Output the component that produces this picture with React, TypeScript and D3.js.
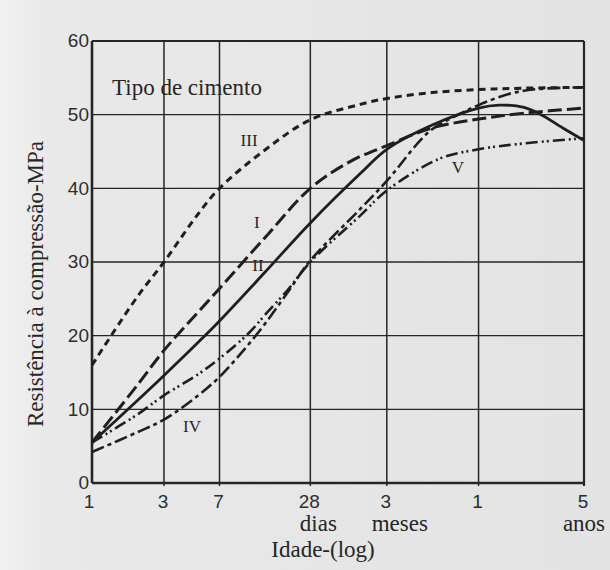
import React from 'react';
import * as d3 from 'd3';

// ---- data (age in days, compressive strength in MPa) ----
const yTicks = [0, 10, 20, 30, 40, 50, 60];
const xTickDays = [1, 3, 7, 28, 90, 365, 1825];
const xTickLabels = ['1', '3', '7', '28', '3', '1', '5'];
const unitDays = [28, 90, 1825];
const unitLabels = ['dias', 'meses', 'anos'];

const typeIII: [number, number][] = [[1, 16], [2, 25.3], [3, 30], [5, 36.4], [7, 40], [14, 45.2], [28, 49.3], [60, 51.4], [90, 52.2], [180, 53], [365, 53.4], [730, 53.6], [1825, 53.7]];
const typeI: [number, number][] = [[1, 5.5], [2, 13.3], [3, 18], [5, 23.1], [7, 26.4], [14, 33.3], [28, 40], [51, 43.6], [90, 45.8], [180, 48.2], [365, 49.4], [730, 50.2], [1825, 50.9]];
const typeII: [number, number][] = [[1, 5.5], [2, 11.2], [3, 14.6], [5, 19], [7, 22], [14, 28.6], [28, 35.3], [60, 42], [90, 45.3], [180, 48.6], [365, 50.9], [500, 51.3], [730, 51], [930, 50.1], [1320, 48.2], [1825, 46.5]];
const typeIV: [number, number][] = [[1, 4.2], [2, 6.9], [3, 8.6], [5, 11.8], [7, 14.4], [10, 17.9], [14, 21.6], [20, 26], [28, 30.2], [60, 37.2], [90, 41], [174, 47.8], [275, 50.1], [365, 51.3], [600, 52.9], [930, 53.5], [1825, 53.7]];
const typeV: [number, number][] = [[1, 5.5], [2, 9.3], [3, 11.9], [5, 14.7], [7, 16.9], [11, 20.4], [14, 22.8], [20, 26.3], [28, 30], [60, 36.3], [90, 39.7], [200, 44], [365, 45.3], [730, 46.1], [1825, 46.8]];

const seriesNames = ['III', 'I', 'II', 'IV', 'V'];
const seriesData = [typeIII, typeI, typeII, typeIV, typeV];
// label anchor points (days, MPa)
const labelDays = [11, 12.4, 12.6, 4.6, 266];
const labelVals = [46.5, 35.4, 29.6, 7.7, 42.9];

const W = 610, H = 570;
const M = { left: 92, right: 584, top: 41, bottom: 483 };

const styles: { dash: string; w: number }[] = [
  { dash: '7,5', w: 3 },
  { dash: '14,5', w: 3 },
  { dash: '', w: 2.8 },
  { dash: '13,4,4,4', w: 2.6 },
  { dash: '12,4,2,3,2,4', w: 2.6 },
];

export default function App() {
  const x = d3.scaleLog().domain([1, 1825]).range([M.left, M.right]);
  const y = d3.scaleLinear().domain([0, 60]).range([M.bottom, M.top]);
  const line = d3
    .line<[number, number]>()
    .x((d) => x(d[0]))
    .y((d) => y(d[1]))
    .curve(d3.curveCatmullRom.alpha(0.5));

  const ink = '#262626';
  const serif = '"Liberation Serif", "Times New Roman", serif';
  const sans = '"Liberation Sans", Arial, sans-serif';

  return (
    <svg
      width={W}
      height={H}
      style={{ position: 'absolute', left: 0, top: 0, display: 'block' }}
    >
      <defs>
        <linearGradient id="paper" x1="0" x2="1" y1="0" y2="0">
          <stop offset="0" stopColor="#f1f1f1" />
          <stop offset="0.08" stopColor="#e9e9e9" />
          <stop offset="1" stopColor="#e3e3e3" />
        </linearGradient>
      </defs>
      <rect x={0} y={0} width={W} height={H} fill="url(#paper)" />

      {/* horizontal grid */}
      {yTicks.map((t) => (
        <line key={'h' + t} x1={M.left} x2={M.right} y1={y(t)} y2={y(t)} stroke={ink} strokeWidth={t === 0 ? 2.6 : t === 60 ? 2 : 1.3} />
      ))}
      {/* vertical grid */}
      {xTickDays.map((d, i) => (
        <line key={'v' + d} x1={x(d)} x2={x(d)} y1={M.top} y2={M.bottom + (i === 0 ? 0 : 3)} stroke={ink} strokeWidth={i === 0 ? 2.6 : i === xTickDays.length - 1 ? 2.2 : 1.5} />
      ))}

      {/* y tick labels */}
      {yTicks.map((t) => (
        <text key={'yl' + t} x={89} y={y(t)} dy="0.34em" textAnchor="end" fontFamily={sans} fontSize={19} fill="#2e2e2e">
          {t}
        </text>
      ))}
      {/* x tick labels */}
      {xTickDays.map((d, i) => (
        <text key={'xl' + d} x={x(d) - (i === 0 ? 3 : 1)} y={508} textAnchor="middle" fontFamily={sans} fontSize={19} fill="#2e2e2e">
          {xTickLabels[i]}
        </text>
      ))}
      {unitDays.map((d, i) => (
        <text key={'u' + d} x={x(d) + (i === 0 ? 8 : i === 1 ? 13 : 0)} y={531} textAnchor="middle" fontFamily={serif} fontSize={23} fill={ink}>
          {unitLabels[i]}
        </text>
      ))}
      <text x={323} y={557} textAnchor="middle" fontFamily={serif} fontSize={23} fill={ink}>
        Idade-(log)
      </text>
      <text transform="translate(43,284) rotate(-90)" textAnchor="middle" fontFamily={serif} fontSize={23} fill={ink}>
        Resistência à compressão-MPa
      </text>
      <text x={112} y={95} fontFamily={serif} fontSize={23} fill={ink}>
        Tipo de cimento
      </text>

      {/* curves */}
      {seriesData.map((s, i) => (
        <path
          key={'c' + i}
          d={line(s) || ''}
          fill="none"
          stroke="#1f1f1f"
          strokeWidth={styles[i].w}
          strokeDasharray={styles[i].dash || undefined}
        />
      ))}

      {/* curve labels */}
      {seriesNames.map((n, i) => (
        <text key={'n' + n} x={x(labelDays[i])} y={y(labelVals[i])} dy="0.35em" textAnchor="middle" fontFamily={serif} fontSize={17} fill={ink}>
          {n}
        </text>
      ))}
    </svg>
  );
}
